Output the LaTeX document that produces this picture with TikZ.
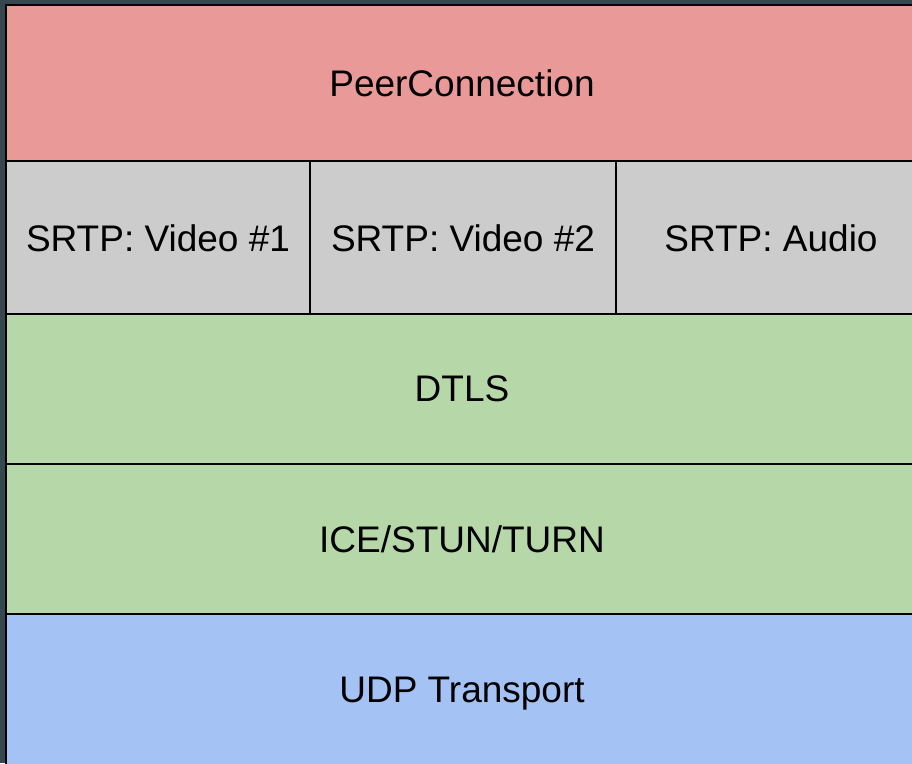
\documentclass[tikz,border=0pt]{standalone}
\usepackage{fontspec}
\setmainfont{Liberation Sans}
\definecolor{bgdark}{HTML}{37474F}
\definecolor{pinkfill}{HTML}{EA9999}
\definecolor{greyfill}{HTML}{CCCCCC}
\definecolor{greenfill}{HTML}{B6D7A8}
\definecolor{bluefill}{HTML}{A4C2F4}
\tikzset{
  layer/.style={draw=black, line width=2pt, inner sep=0pt, outer sep=0pt, font=\fontsize{37}{44}\selectfont},
}
\begin{document}
\begin{tikzpicture}[x=1pt,y=-1pt]
\fill[bgdark] (0,0) rectangle (912,763);
\useasboundingbox (0,0) rectangle (912,763);
\node[layer, fill=pinkfill, minimum width=912pt, minimum height=156pt] (pc) at (462,83) {PeerConnection};
\node[layer, fill=greyfill, minimum width=305pt, minimum height=154pt] (v1) at (158,238) {SRTP: Video \#1};
\node[layer, fill=greyfill, minimum width=306pt, minimum height=154pt] (v2) at (463,238) {SRTP: Video \#2};
\node[layer, fill=greyfill, minimum width=310pt, minimum height=154pt] (au) at (771,238) {SRTP: Audio};
\node[layer, fill=greenfill, minimum width=912pt, minimum height=150pt] (dtls) at (462,389) {DTLS};
\node[layer, fill=greenfill, minimum width=912pt, minimum height=150pt] (ice) at (462,539) {ICE/STUN/TURN};
\node[layer, fill=bluefill, minimum width=912pt, minimum height=160pt] (udp) at (462,694) {UDP Transport};
\end{tikzpicture}
\end{document}
